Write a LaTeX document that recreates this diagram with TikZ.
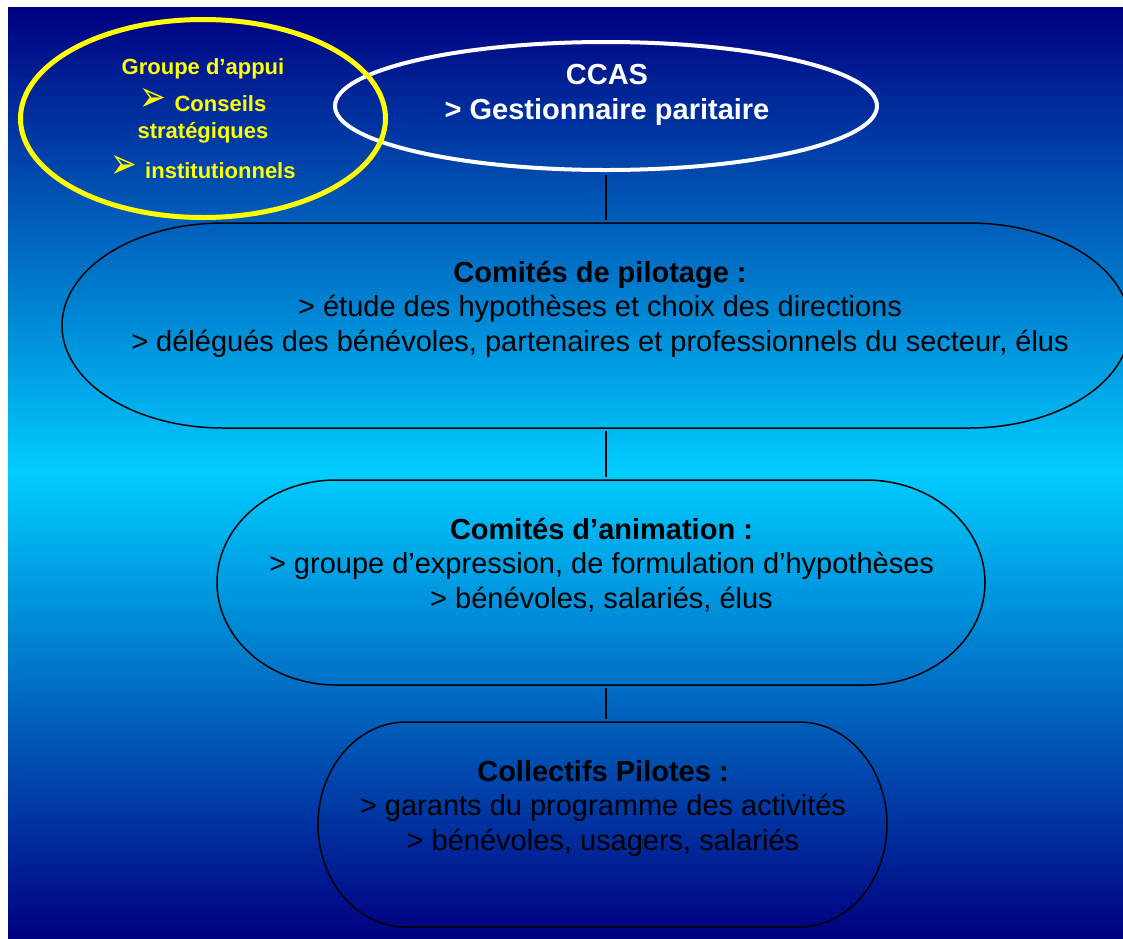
\documentclass[tikz,border=0pt]{standalone}
\usepackage{fontspec}
\setmainfont{Liberation Sans}
\newfontfamily\dingfont{DejaVu Sans}
\usetikzlibrary{shapes.geometric}

\definecolor{bgnavy}{RGB}{0,0,128}
\definecolor{bgcyan}{RGB}{0,204,255}
\definecolor{appuiyellow}{RGB}{255,255,0}

\newcommand{\appuiarrow}{\scalebox{1}[1.35]{\dingfont\fontsize{32}{27}\selectfont ➢}\hspace{8pt}}

\tikzset{every picture/.style={line width=1.5pt}}
\tikzset{
	bigfont/.style={font=\fontsize{29}{34.5}\selectfont, align=center},
	termline/.style={draw=black, line width=1.5pt},
	termbox/.style 2 args={minimum width=#1, minimum height=205, inner sep=0pt, outer sep=0pt,
		append after command={\pgfextra{%
			\draw [termline] ([xshift=#2]\tikzlastnode.north west) -- ([xshift=-#2]\tikzlastnode.north east)
				arc [start angle=-90, end angle=90, x radius=#2, y radius=102.5]
				-- ([xshift=#2]\tikzlastnode.south west)
				arc [start angle=90, end angle=270, x radius=#2, y radius=102.5] -- cycle ;}}},
	link/.style={draw=black, line width=1.5pt, shorten <=3pt, shorten >=3pt}
}

\begin{document}
\begin{tikzpicture}[x=1pt,y=1pt,yscale=-1,xscale=1]
	\useasboundingbox (0,0) rectangle (1123,938);

	%Shape: Rectangle [background]
	\shade [top color=bgnavy, bottom color=bgnavy, middle color=bgcyan] (8,7) rectangle (1123,938);

	%Shape: Ellipse [CCAS]
	\node [draw=white, line width=4pt, ellipse, minimum width=542, minimum height=128, inner sep=0pt] (ccas) at (606,106) {};
	% Text Node
	\node [white, font=\bfseries\fontsize{29}{35}\selectfont, align=center] (ccas-txt) at (607,94.5) {CCAS\\> Gestionnaire paritaire};

	%Shape: Ellipse [groupe d'appui]
	\node [draw=appuiyellow, line width=5pt, ellipse, minimum width=365, minimum height=198, inner sep=0pt,
		text=appuiyellow, font=\bfseries\fontsize{22}{27}\selectfont, align=center] (appui) at (203,118.5)
		{Groupe d’appui\\[9pt]\appuiarrow Conseils\\stratégiques\\[11pt]\appuiarrow institutionnels};

	%Shape: Terminator [pilotage]
	\node [termbox={1068}{161}] (pilotage) at (596,325.5) {};
	% Text Node
	\node [bigfont] (pilotage-txt) at (600,309) {\textbf{Comités de pilotage :}\\> étude des hypothèses et choix des directions\\> délégués des bénévoles, partenaires et professionnels du secteur, élus};

	%Shape: Terminator [animation]
	\node [termbox={768}{119}] (animation) at (601,582.5) {};
	% Text Node
	\node [bigfont] (animation-txt) at (601.5,565) {\textbf{Comités d’animation :}\\> groupe d’expression, de formulation d’hypothèses\\> bénévoles, salariés, élus};

	%Shape: Terminator [collectifs]
	\node [termbox={569}{88}] (collectifs) at (602.5,824.5) {};
	% Text Node
	\node [bigfont] (collectifs-txt) at (603,808) {\textbf{Collectifs Pilotes :}\\> garants du programme des activités\\> bénévoles, usagers, salariés};

	%Straight Lines
	\draw [link] (ccas.south) -- (ccas.south |- pilotage.north);
	\draw [link] (ccas.south |- pilotage.south) -- (ccas.south |- animation.north);
	\draw [link] (ccas.south |- animation.south) -- (ccas.south |- collectifs.north);

\end{tikzpicture}
\end{document}
